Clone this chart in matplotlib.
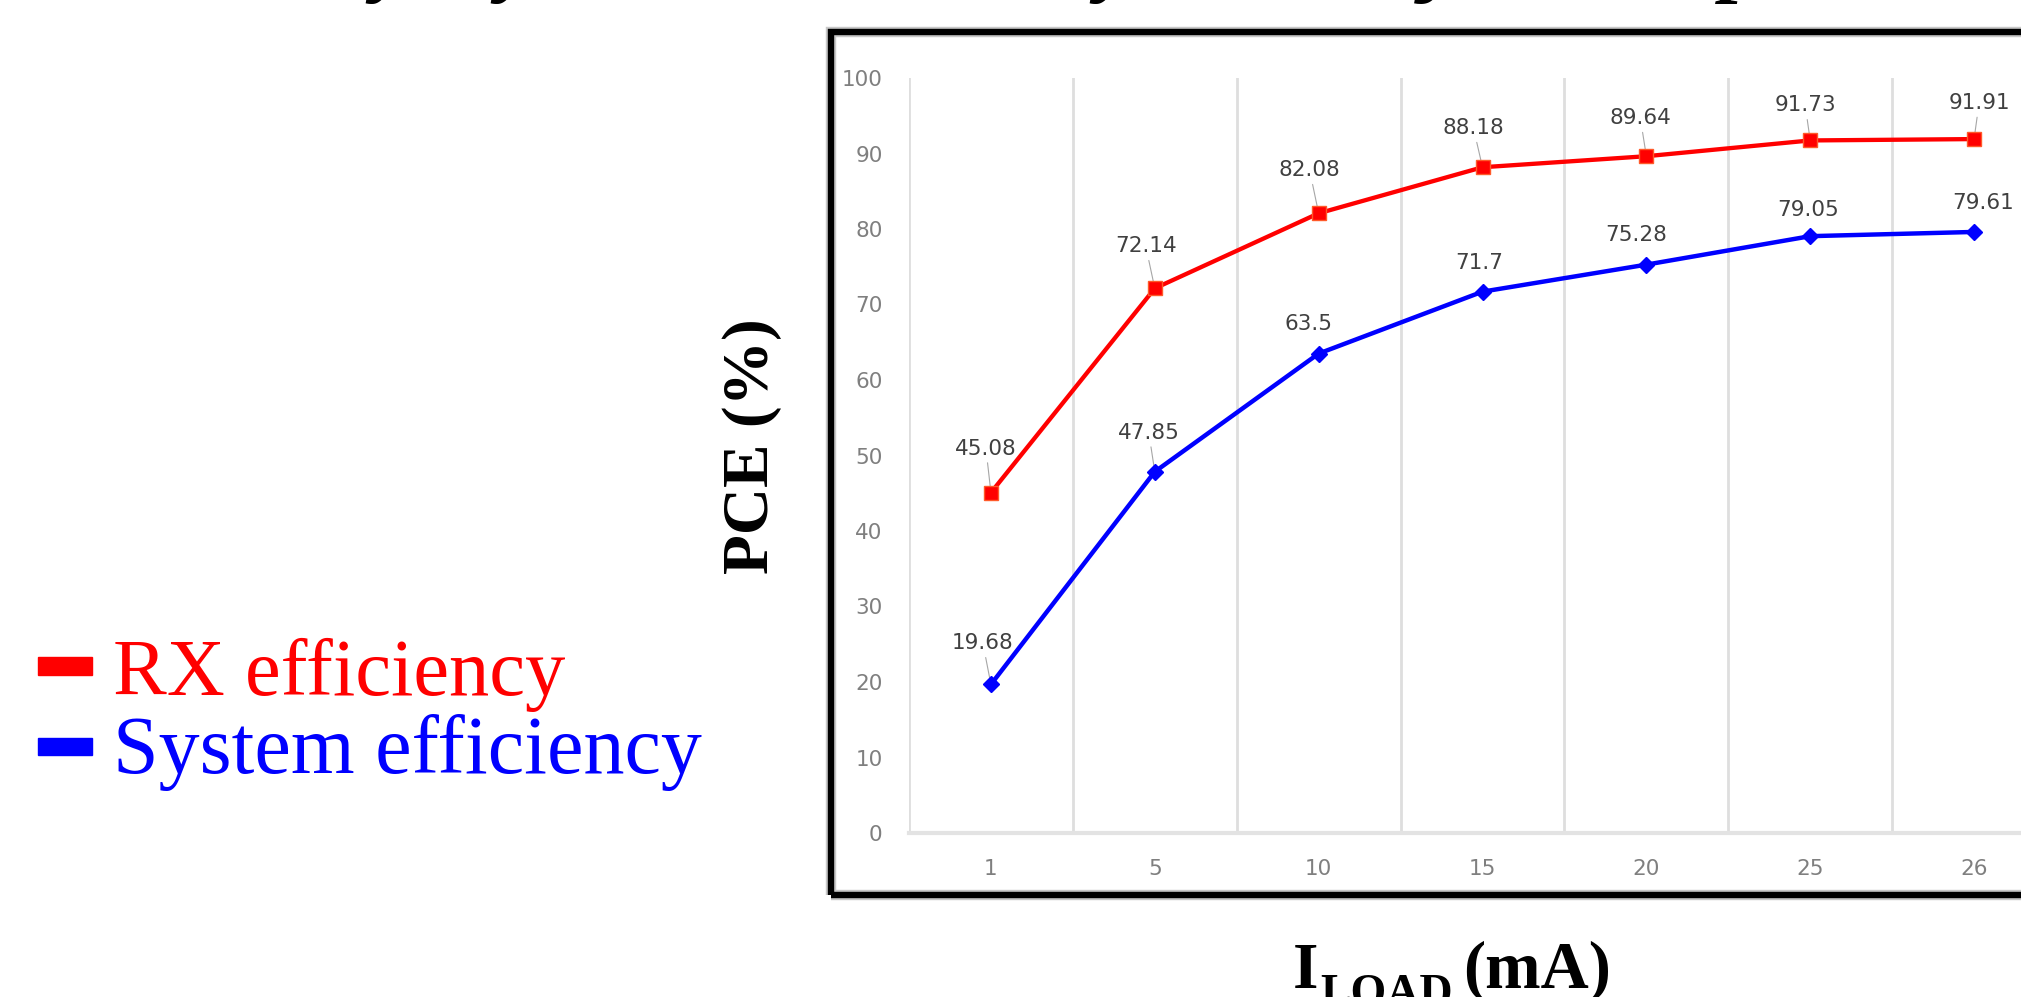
import numpy as np
import matplotlib
matplotlib.use('Agg')
import matplotlib.pyplot as plt
from matplotlib.patches import Rectangle

W, H = 2021, 997

loads = ['1', '5', '10', '15', '20', '25', '26']
rx_eff = [45.08, 72.14, 82.08, 88.18, 89.64, 91.73, 91.91]
sys_eff = [19.68, 47.85, 63.5, 71.7, 75.28, 79.05, 79.61]
series_names = ['RX efficiency', 'System efficiency']

# data label offsets in pixels (label centre relative to the point)
rx_off = [(-5, 44), (-9, 42), (-9, 43), (-9, 39), (-6, 38), (-5, 35), (5, 36)]
sys_off = [(-8, 41), (-6, 39), (-10, 30), (-3, 29), (-10, 30), (-2, 26), (9, 29)]
sys_leader = [True, True, False, False, False, False, False]


def fx(x):
    return x / W


def fy(y):  # pixel row from top -> figure fraction
    return 1 - y / H


fig = plt.figure(figsize=(W / 100, H / 100), dpi=100)

# framed chart box, runs off the right edge of the slide
fig.patches.append(Rectangle((fx(831), fy(895)), fx(2300 - 831), (895 - 32) / H,
                             transform=fig.transFigure, fill=False, ec='#c8c8c8', lw=7.5))
fig.patches.append(Rectangle((fx(831), fy(895)), fx(2300 - 831), (895 - 32) / H,
                             transform=fig.transFigure, fill=False, ec='black', lw=4.6))

ax = fig.add_axes([fx(909), fy(833), fx(2056 - 909), 755 / H])
x = np.arange(len(loads))
ax.set_xlim(-0.5, len(loads) - 0.5)
ax.set_ylim(0, 100)

ax.set_xticks(x)
ax.set_xticklabels(loads)
ax.set_yticks(np.arange(0, 101, 10))
ax.set_xticks(np.arange(-0.5, len(loads), 1), minor=True)
ax.grid(which='minor', axis='x', color='#dedede', lw=2)
ax.tick_params(which='both', length=0)
ax.tick_params(axis='both', pad=19, labelsize=15.5, labelcolor='#7f7f7f')
for s in ['top', 'right', 'left']:
    ax.spines[s].set_visible(False)
ax.spines['bottom'].set_color('#e3e3e3')
ax.spines['bottom'].set_linewidth(3)

ax.plot(x, rx_eff, color='red', lw=3.1, marker='s', ms=10.5, mec='#ff5a2a', mew=1,
        zorder=4, clip_on=False)
ax.plot(x, sys_eff, color='blue', lw=3.2, marker='D', ms=8.5, mec='blue',
        zorder=4, clip_on=False)

for i, (v, (dx, dy)) in enumerate(zip(rx_eff, rx_off)):
    ax.annotate(f'{v:g}', xy=(i, v), xytext=(dx, dy), textcoords='offset pixels',
                ha='center', va='center', fontsize=15.5, color='#404040', zorder=2,
                arrowprops=dict(arrowstyle='-', color='#a6a6a6', lw=0.8,
                                shrinkA=1, shrinkB=0))
for i, (v, (dx, dy)) in enumerate(zip(sys_eff, sys_off)):
    ap = dict(arrowstyle='-', color='#a6a6a6', lw=0.8, shrinkA=1, shrinkB=0) if sys_leader[i] else None
    ax.annotate(f'{v:g}', xy=(i, v), xytext=(dx, dy), textcoords='offset pixels',
                ha='center', va='center', fontsize=15.5, color='#404040', zorder=2,
                arrowprops=ap)

# axis titles
fig.text(fx(752), fy(446), 'PCE (%)', rotation=90, ha='center', va='center',
         fontsize=47, fontweight='bold', family='Liberation Serif')
xl = dict(va='baseline', fontweight='bold', family='Liberation Serif', ha='left')
fig.text(fx(1293), fy(988), 'I', fontsize=47, **xl)
fig.text(fx(1320), fy(1006), 'LOAD', fontsize=33, **xl)
fig.text(fx(1463), fy(988), '(mA)', fontsize=48, **xl)

# legend on the left of the slide
fig.patches.append(Rectangle((fx(38), fy(675)), fx(54), 18 / H, transform=fig.transFigure,
                             color='red'))
fig.patches.append(Rectangle((fx(38), fy(755)), fx(54), 17 / H, transform=fig.transFigure,
                             color='blue'))
fig.text(fx(113), fy(695), series_names[0], color='red', fontsize=58,
         family='Liberation Serif', va='baseline')
fig.text(fx(113), fy(773), series_names[1], color='blue', fontsize=59,
         family='Liberation Serif', va='baseline')

# bottoms of the slide title that is cut off above
for cx, ch in [(392, 'y'), (517, 'y'), (1052, ','), (1116, 'y'), (1436, 'j'), (1742, 'p')]:
    fig.text(fx(cx), fy(-14), ch, ha='center', va='baseline', fontsize=60,
             fontweight='bold', fontstyle='italic', family='Liberation Serif')

fig.savefig('out.png', dpi=100)
